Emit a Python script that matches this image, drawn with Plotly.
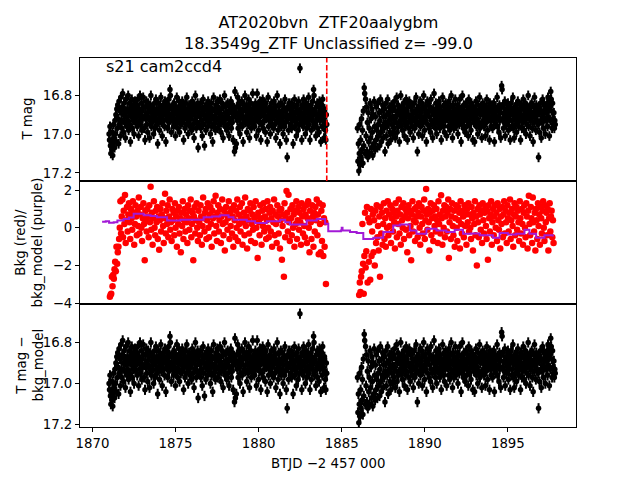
import numpy as np
import plotly.graph_objects as go
from plotly.subplots import make_subplots

# ---------------- data ----------------
seg1_start, seg1_end = 1871.0, 1884.1
seg2_start, seg2_end = 1885.95, 1897.85
bkg1_start, bkg1_end = 1871.05, 1884.05
bkg2_start, bkg2_end = 1886.05, 1897.75
sector_end = 1884.1

mag1 = [
 17.00, 17.03, 16.96, 17.06, 17.10, 17.04, 17.08, 16.99, 17.11, 17.05, 16.95, 17.02, 17.07, 16.93, 17.00, 16.90, 17.04, 16.87, 16.97, 16.85,
 16.92, 17.05, 16.83, 16.95, 16.88, 17.01, 16.81, 16.93, 16.97, 16.86, 16.79, 16.90, 16.99, 16.84, 16.94, 16.88, 17.02, 16.82, 16.91, 16.96,
 16.87, 16.93, 16.80, 16.98, 16.89, 16.84, 16.95, 17.04, 16.86, 16.91, 16.82, 16.97, 16.88, 16.93, 16.85, 17.00, 16.90, 16.83, 16.94, 16.87,
 16.91, 16.85, 16.96, 16.82, 16.89, 17.01, 16.87, 16.93, 16.80, 16.95, 16.90, 16.84, 16.98, 16.88, 16.92, 16.81, 16.86, 16.97, 16.91, 17.03,
 16.86, 16.92, 16.83, 16.95, 16.89, 16.99, 16.84, 16.91, 16.87, 17.02, 16.93, 16.85, 16.80, 16.96, 16.89, 16.94, 16.86, 16.91, 17.00, 16.88,
 16.84, 16.97, 16.90, 16.82, 16.93, 16.87, 16.95, 17.05, 16.89, 16.84, 16.92, 16.98, 16.86, 16.91, 16.81, 16.94, 16.88, 17.01, 16.90, 16.85,
 16.93, 16.87, 16.96, 16.83, 16.90, 17.04, 16.88, 16.92, 16.85, 16.97, 16.89, 16.82, 16.94, 16.86, 16.77, 16.80, 16.91, 16.99, 16.87, 16.93,
 16.85, 16.90, 16.96, 16.84, 16.92, 16.88, 17.01, 16.86, 16.94, 16.81, 16.90, 16.97, 16.87, 16.93, 16.83, 16.99, 16.89, 16.85, 16.95, 16.91,
 16.88, 16.83, 16.94, 16.90, 17.03, 16.86, 16.92, 16.97, 16.84, 16.89, 16.95, 16.81, 16.91, 16.87, 17.00, 16.93, 16.85, 16.90, 16.96, 16.88,
 16.92, 16.86, 16.98, 16.83, 16.90, 16.95, 16.88, 17.02, 16.85, 16.93, 16.80, 16.91, 16.97, 16.87, 16.94, 16.84, 17.07, 16.89, 16.95, 16.86,
 16.91, 16.84, 16.97, 16.89, 16.93, 17.01, 16.87, 16.82, 16.95, 16.90, 17.06, 16.86, 16.92, 16.98, 16.85, 16.91, 16.88, 16.96, 16.83, 16.94,
 16.89, 16.93, 16.86, 17.00, 16.90, 16.84, 16.96, 16.88, 17.04, 16.92, 16.81, 16.95, 16.87, 16.91, 16.98, 16.85, 16.93, 16.89, 16.83, 16.97,
 16.86, 16.92, 16.88, 16.95, 16.82, 16.90, 16.99, 16.87, 16.94, 16.84, 16.91, 17.02, 16.86, 16.93, 16.80, 16.96, 16.89, 16.92, 16.85, 16.98,
 16.90, 16.84, 16.95, 16.88, 17.01, 16.92, 16.86, 16.93, 16.83, 16.97, 16.89, 16.94, 16.85, 17.03, 16.91, 16.87, 17.09, 16.78, 17.07, 16.90,
 17.05, 16.86, 16.93, 16.81, 16.97, 16.89, 16.84, 16.92, 17.00, 16.87, 16.95, 16.90, 16.83, 16.96, 16.88, 17.04, 16.91, 16.85, 16.93, 16.80,
 16.94, 16.88, 16.85, 16.99, 16.91, 16.86, 16.95, 16.82, 16.90, 17.02, 16.87, 16.93, 16.84, 16.97, 16.89, 16.92, 16.79, 16.95, 16.88, 16.86,
 16.96, 16.90, 16.84, 16.93, 17.01, 16.87, 16.79, 16.92, 16.85, 16.98, 16.89, 16.94, 16.83, 16.91, 17.03, 16.86, 16.95, 16.88, 16.82, 16.97,
 16.90, 16.85, 16.93, 16.88, 16.99, 16.84, 16.92, 16.87, 17.04, 16.91, 16.81, 16.96, 16.89, 16.93, 16.86, 17.00, 16.90, 16.84, 16.95, 16.88,
 16.92, 16.87, 16.97, 16.83, 16.90, 16.95, 16.86, 17.02, 16.89, 16.93, 16.80, 16.91, 16.98, 16.85, 16.94, 16.88, 17.05, 16.90, 16.84, 16.96,
 16.89, 16.93, 16.85, 17.00, 16.91, 16.87, 16.96, 16.82, 16.94, 16.88, 17.03, 16.90, 17.12, 16.86, 16.92, 16.98, 16.84, 16.91, 16.87, 16.95,
 16.90, 16.84, 16.97, 16.88, 16.93, 17.05, 16.86, 16.91, 16.82, 16.96, 16.89, 16.94, 17.01, 16.85, 16.92, 16.88, 16.98, 16.83, 16.90, 16.95,
 16.66, 16.87, 16.93, 16.89, 17.03, 16.85, 16.91, 16.96, 16.82, 16.90, 16.94, 16.87, 17.00, 16.92, 16.84, 16.97, 16.89, 16.86, 16.93, 16.81,
 16.95, 16.88, 17.03, 16.91, 16.85, 16.98, 16.87, 16.93, 16.83, 16.90, 16.77, 16.80, 16.96, 16.89, 16.94, 17.01, 16.86, 16.92, 16.84, 16.97,
 16.90, 16.86, 16.99, 16.83, 16.93, 16.88, 17.04, 16.91, 16.85, 16.96, 16.82, 16.92, 16.89, 17.02, 16.87, 16.94, 16.98, 17.03, 16.90, 16.95,
]

mag2 = [
 16.97, 17.14, 17.05, 17.19, 17.10, 16.95, 17.16, 17.03, 17.12, 16.92, 17.08, 16.98, 17.15, 16.88, 17.06, 16.76, 16.79, 17.10, 16.82, 17.01,
 16.86, 17.09, 16.94, 17.12, 16.89, 17.04, 16.97, 17.10, 16.84, 17.02, 16.92, 17.07, 16.87, 16.99, 17.11, 16.90, 17.05, 16.83, 16.96, 17.08,
 16.91, 17.03, 16.86, 16.98, 17.07, 16.84, 16.95, 17.01, 16.89, 17.06, 16.93, 16.82, 16.99, 17.04, 16.88, 16.96, 16.85, 17.02, 16.91, 16.97,
 16.87, 17.09, 16.94, 16.84, 17.01, 16.90, 16.96, 16.82, 17.05, 16.89, 16.93, 16.86, 16.99, 16.91, 17.03, 16.85, 16.95, 16.88, 17.00, 16.92,
 16.86, 16.97, 16.83, 16.92, 17.02, 16.88, 16.94, 16.81, 16.99, 16.90, 16.85, 16.96, 16.89, 17.04, 16.87, 16.93, 16.80, 16.95, 16.91, 16.86,
 16.98, 16.89, 16.84, 16.93, 17.01, 16.87, 16.91, 16.96, 16.82, 16.94, 16.88, 17.03, 16.85, 16.90, 16.97, 16.83, 16.92, 16.99, 16.86, 16.94,
 16.90, 16.85, 16.96, 16.88, 17.02, 16.92, 16.84, 16.97, 16.89, 16.93, 16.81, 16.95, 16.87, 17.09, 16.91, 16.86, 17.00, 16.88, 16.94, 16.83,
 16.96, 16.89, 16.92, 16.84, 17.01, 16.87, 16.94, 16.80, 16.91, 16.98, 16.86, 16.93, 16.88, 17.04, 16.90, 16.83, 16.95, 16.89, 16.85, 16.97,
 16.91, 16.86, 16.99, 16.82, 16.93, 16.88, 16.95, 17.02, 16.87, 16.90, 16.79, 16.94, 16.89, 16.97, 16.84, 16.92, 17.00, 16.86, 16.93, 16.88,
 16.95, 16.83, 16.90, 16.97, 16.86, 16.92, 17.03, 16.88, 16.94, 16.81, 16.91, 16.96, 16.85, 16.99, 16.89, 16.93, 16.84, 16.90, 17.01, 16.87,
 16.92, 16.88, 16.96, 16.83, 16.90, 16.98, 16.86, 16.93, 16.80, 16.95, 16.89, 17.02, 16.85, 16.91, 16.97, 16.87, 16.94, 16.82, 16.90, 16.96,
 16.88, 16.93, 16.85, 17.00, 16.91, 16.86, 16.95, 16.82, 16.92, 16.89, 17.04, 16.87, 16.94, 16.80, 16.90, 16.97, 16.85, 16.93, 16.88, 16.99,
 16.91, 16.84, 16.96, 16.89, 16.93, 16.86, 17.01, 16.82, 16.90, 16.95, 16.87, 16.92, 16.98, 16.84, 16.91, 16.88, 17.03, 16.86, 16.94, 16.90,
 17.04, 16.87, 16.93, 16.83, 16.96, 16.89, 16.92, 17.00, 16.85, 16.94, 16.88, 16.81, 16.97, 16.90, 16.86, 16.95, 17.02, 16.89, 16.84, 16.93,
 16.88, 16.96, 16.85, 16.91, 17.01, 16.87, 16.94, 16.82, 16.90, 16.98, 16.86, 16.92, 16.89, 17.03, 16.84, 16.93, 16.87, 16.96, 16.91, 16.85,
 16.97, 16.89, 16.93, 16.84, 17.04, 16.90, 16.86, 16.95, 16.88, 16.92, 16.81, 16.96, 16.87, 16.91, 16.99, 16.85, 16.93, 16.89, 17.02, 16.86,
 16.75, 16.77, 16.92, 16.85, 16.97, 16.89, 16.94, 16.83, 17.01, 16.90, 16.87, 16.95, 16.88, 16.92, 16.84, 16.98, 16.89, 16.93, 16.86, 17.03,
 16.90, 16.84, 16.96, 16.88, 16.93, 16.81, 16.97, 16.89, 17.02, 16.86, 16.91, 16.95, 16.85, 16.99, 16.88, 16.93, 16.83, 16.90, 16.96, 16.87,
 16.93, 16.88, 17.03, 16.85, 16.91, 16.97, 16.86, 16.94, 16.82, 16.90, 16.98, 16.87, 16.92, 16.84, 17.00, 16.89, 16.95, 16.86, 16.91, 16.80,
 16.96, 16.88, 16.92, 17.01, 16.85, 16.93, 16.89, 16.84, 16.97, 16.90, 17.04, 16.86, 16.94, 16.81, 16.91, 16.88, 16.98, 16.85, 16.93, 16.87,
 16.90, 16.95, 17.12, 16.86, 16.99, 16.89, 16.84, 16.93, 17.02, 16.88, 16.94, 16.82, 16.91, 16.97, 16.85, 16.92, 16.88, 17.00, 16.86, 16.93,
 16.89, 16.84, 16.96, 16.81, 16.91, 16.87, 17.01, 16.85, 16.93, 16.78, 16.82, 16.88, 16.97, 16.84, 16.92, 16.95, 16.89, 16.97, 16.93, 16.95,
]
mag_err = 0.025

bkg1 = [
 -3.65, -3.55, -3.5, -2.6, -3.1, -2.5, -2.7, -2.2, -1.8, -2.3, -1.0, -1.9, -1.3, -1.0, -0.6,
 0.0, 1.4, -0.3, 0.6, 1.5, -0.5, 0.9, 0.2, 1.74, -0.8, 0.4, 1.1, -0.2, 0.7, 1.3,
 0.3, -0.6, 1.0, 0.5, -0.1, 1.4, 0.8, -0.9, 0.2, 1.2, 0.6, -0.4, 0.9, 0.1, 1.6,
 -0.3, 0.7, 1.1, 0.0, -0.7, 0.5, 1.3, 0.2, -1.72, 0.9, 0.4, -0.2, 1.0, 0.6, -0.5,
 1.2, 0.3, 2.17, -0.1, 0.8, -0.9, 0.5, 1.4, 0.0, -0.4, 0.9, 0.3, 1.1, -0.6, 0.6,
 -1.16, 0.4, 1.0, -0.2, 0.7, 1.3, 0.1, -0.8, 0.5, 1.8, -0.3, 0.9, 0.2, 1.2, -0.5,
 0.6, 1.5, -0.1, 0.3, -0.7, 1.0, 0.4, 0.8, -0.4, 1.3, 0.0, 0.6, -1.0, 0.9, 0.2,
 1.1, -0.3, 0.5, -1.3, 0.8, 0.1, 1.4, -0.6, 0.4, 1.0, -0.2, 0.7, 0.3, -0.8, 1.2,
 0.5, -0.1, 0.9, 1.5, -0.5, 0.2, 0.8, -1.72, 0.6, 1.1, -0.3, 0.4, 1.3, 0.0, -0.7,
 0.9, 0.3, -0.4, 1.2, 0.6, -0.9, 0.1, 1.6, 0.5, -0.2, 0.8, 1.0, -0.6, 0.4, 1.3,
 0.0, -0.5, 0.7, 1.1, 0.2, -1.0, 0.9, 0.5, 1.4, -0.3, 0.6, 1.7, 0.1, -0.7, 0.8,
 1.2, -0.2, 0.4, 1.0, -0.8, 0.6, 1.5, 0.2, -0.4, 0.9, -1.2, 0.3, 1.1, 0.7, -0.1,
 0.5, 1.4, -0.6, 0.8, 0.1, 1.0, -0.3, 0.6, -1.0, 1.2, 0.4, -0.5, 0.9, 0.0, 1.5,
 -0.7, 0.7, 0.2, 1.1, -0.2, 0.5, 1.3, -0.9, 0.3, 0.8, -0.4, 1.6, 0.1, 0.6, -1.1,
 1.0, 0.4, -0.3, 0.9, 1.3, -0.7, 0.2, 0.7, -0.1, 1.1, 0.5, -0.8, 1.4, 0.0, 0.6,
 -1.6, 0.8, 0.3, -0.4, 1.2, 0.5, -0.9, 0.9, 0.1, 1.3, -0.2, 0.6, 1.0, -0.6, 0.4,
 1.4, 0.0, -0.5, 0.8, 1.1, -0.2, 0.5, -1.0, 0.9, 0.3, 1.5, -0.4, 0.7, 0.2, -0.8,
 1.2, 0.6, -0.3, 0.9, -1.1, 0.4, 1.0, -1.7, 0.1, 0.7, -2.6, 1.3, -0.5, 0.5, 1.95,
 0.8, -0.2, 1.75, 0.3, -0.7, 1.0, 0.5, -0.4, 1.2, 0.0, 0.7, -1.0, 0.9, 0.2, 1.4,
 -0.6, 0.4, 1.1, -0.1, 0.8, 0.3, -0.9, 1.3, 0.6, -0.3, 1.0, 0.1, -0.5, 0.7, 1.2,
 -0.8, 0.5, 1.4, 0.0, -1.3, 0.9, 0.3, -0.6, 1.2, 0.6, -1.0, 0.8, -0.2, 1.1, 0.4,
 1.5, -0.4, 0.7, -1.4, 1.3, 0.2, -1.3, 0.9, -0.7, 1.2, -1.5, 0.5, -1.0, 0.3, -2.98,
]

bkg2 = [
 -3.56, -2.9, -3.4, -2.6, -2.3, 0.2, -1.9, -3.5, -1.5, 0.8, -2.1, -1.25, 1.1, -2.9, 0.5,
 -1.8, 0.3, -2.75, 1.0, -1.5, -0.2, 0.7, -1.3, 0.4, -2.0, 0.9, -0.8, 1.2, -0.5, 0.1,
 -1.2, 0.6, -2.6, 1.1, -0.3, 0.8, -0.9, 0.2, 1.3, -0.6, 0.5, -1.0, 0.9, 0.0, 1.4,
 -0.4, 0.7, 0.1, 1.2, -0.8, 0.5, 1.0, -0.2, 0.8, 0.3, -1.1, 1.3, 0.6, -0.5, 0.9,
 0.2, 1.5, -0.3, 0.7, -0.9, 1.1, 0.4, 0.0, 1.3, -0.6, 0.6, 1.0, -0.1, 0.8, -1.3,
 0.5, 1.2, -0.4, 0.9, 0.1, -1.72, 0.7, 1.4, -0.2, 0.4, 1.0, -0.7, 0.3, 1.1, 0.6,
 -0.5, 0.8, 1.3, 0.0, -0.9, 0.6, 1.1, 0.2, -0.3, 0.9, 1.5, -0.6, 0.4, 2.05, 0.7,
 -0.1, 1.0, 0.3, -1.2, 0.8, 1.3, -0.4, 0.5, 0.9, -0.7, 1.2, 0.1, 0.6, -0.2, 1.0,
 0.4, -0.8, 1.4, 0.2, 0.7, -0.3, 1.73, 0.5, -0.9, 0.9, 0.0, 1.2, -0.5, 0.6, 1.1,
 -0.2, 0.8, 1.5, -1.6, 0.3, 1.0, -0.6, 0.6, 1.3, 0.1, -0.4, 0.9, -1.0, 0.5, 1.2,
 0.0, -0.7, 1.1, 0.4, 0.8, -1.1, 1.4, 0.2, -0.3, 0.9, 0.6, -0.5, 1.2, 0.1, 0.7,
 -0.9, 1.0, 0.3, 1.3, -0.2, 0.7, 0.0, -0.6, 1.1, 0.5, -1.2, 0.8, 0.2, 1.4, -0.4,
 0.6, -2.0, 1.0, 0.3, -0.5, 1.2, 0.7, -0.1, 0.9, -0.8, 1.3, 0.4, -0.3, 0.8, 1.1,
 0.1, -0.6, 0.9, -1.7, 1.2, 0.5, -0.2, 0.7, 1.4, -0.9, 0.3, 1.0, -0.4, 0.6, 1.2,
 0.0, 0.8, -0.7, 1.3, 0.4, -0.1, 1.0, -1.1, 0.6, 0.2, 1.1, -0.5, 0.7, 1.4, -0.3,
 0.9, 0.3, -0.8, 1.2, 0.5, -0.2, 0.8, 1.5, -0.6, 0.4, 1.0, 0.1, -1.0, 0.7, 1.3,
 -0.4, 0.6, 1.1, -0.1, 0.9, 0.3, -0.7, 1.4, 0.5, -0.3, 1.0, 0.2, -0.9, 0.8, 1.2,
 0.0, -0.5, 1.3, 0.6, -1.1, 0.9, 1.7, 0.2, -0.4, 1.1, 0.5, -0.8, 1.6, 0.3, -0.2,
 0.8, -1.2, 1.0, 0.4, -0.6, 1.3, 0.1, 0.7, -0.9, 1.1, 0.5, -0.3, 0.9, 1.4, 0.0,
 -0.7, 1.2, 0.3, 0.8, -0.4, 1.0, -1.2, 0.5, 1.3, -0.2, 0.6, 0.9, -0.5, 0.4, -0.8,
]

model_t = [1870.58, 1870.8, 1871.0, 1871.28, 1871.5, 1871.88, 1872.2, 1872.48, 1873.08, 1873.5, 1873.88,
           1874.49, 1875.29, 1876.08, 1876.69, 1877.2, 1877.69, 1878.19, 1878.49, 1879.29, 1879.79,
           1880.49, 1881.29, 1881.6, 1881.89, 1882.49, 1882.89, 1883.5, 1884.0, 1884.19, 1884.6,
           1884.95, 1885.0, 1885.05, 1885.5, 1885.9, 1886.3, 1886.9, 1887.5, 1888.1, 1888.5, 1889.1,
           1889.5, 1890.1, 1890.7, 1891.3, 1891.8, 1892.3, 1892.8, 1893.3, 1894.1, 1894.5, 1895.0,
           1895.5, 1896.0, 1896.3, 1896.7, 1897.2, 1897.7]
model_v = [0.32, 0.34, 0.27, 0.30, 0.38, 0.47, 0.55, 0.74, 0.67, 0.62, 0.56,
           0.39, 0.42, 0.42, 0.56, 0.60, 0.67, 0.56, 0.42, 0.35, 0.25,
           0.35, 0.42, 0.30, 0.18, 0.18, 0.39, 0.46, 0.21, -0.18, -0.18,
           -0.15, 0.0, -0.15, -0.23, -0.28, -0.60, -0.53, -0.23, 0.12, 0.18, -0.14,
           -0.32, -0.05, -0.14, -0.23, -0.10, -0.32, -0.30, -0.40, -0.53, -0.28, -0.35,
           -0.32, -0.10, -0.32, -0.53, -0.40, -0.46]

title_text = "AT2020bvn  ZTF20aalygbm<br>18.3549g_ZTF Unclassified z= -99.0"
label_text = "s21 cam2ccd4"
ylabels = ["T mag", "Bkg (red)/<br>bkg_model (purple)", "T mag −<br>bkg_model"]
xlabel = "BTJD −2 457 000"

# ---------------- figure ----------------
t_mag = np.concatenate([np.linspace(seg1_start, seg1_end, len(mag1)),
                        np.linspace(seg2_start, seg2_end, len(mag2))])
mag = np.array(mag1 + mag2)
t_bkg = np.concatenate([np.linspace(bkg1_start, bkg1_end, len(bkg1)),
                        np.linspace(bkg2_start, bkg2_end, len(bkg2))])
bkg = np.array(bkg1 + bkg2)

FONT = "DejaVu Sans"
fig = make_subplots(rows=3, cols=1, shared_xaxes=True, vertical_spacing=0)

err = dict(type="constant", value=mag_err, color="black", thickness=2, width=0)
fig.add_trace(go.Scatter(x=t_mag, y=mag, mode="markers",
                         marker=dict(color="black", size=5.5),
                         error_y=err, showlegend=False, hoverinfo="skip"), row=1, col=1)
fig.add_trace(go.Scatter(x=t_bkg, y=bkg, mode="markers",
                         marker=dict(color="red", size=6.5),
                         showlegend=False, hoverinfo="skip"), row=2, col=1)
fig.add_trace(go.Scatter(x=model_t, y=model_v, mode="lines",
                         line=dict(color="#a21ad6", width=2, shape="hv"),
                         showlegend=False, hoverinfo="skip"), row=2, col=1)
fig.add_trace(go.Scatter(x=t_mag, y=mag, mode="markers",
                         marker=dict(color="black", size=5.5),
                         error_y=err, showlegend=False, hoverinfo="skip"), row=3, col=1)

fig.add_vline(x=sector_end, line=dict(color="red", width=1.6, dash="5.5px,2.4px"), row=1, col=1)

axis_common = dict(showline=True, linecolor="black", linewidth=1, mirror=True,
                   ticks="outside", ticklen=4, tickcolor="black", showgrid=False,
                   zeroline=False, automargin=False,
                   tickfont=dict(family=FONT, size=13.3, color="black"))

for r in (1, 2, 3):
    fig.update_xaxes(range=[1869.25, 1899.1], tick0=1870, dtick=5, row=r, col=1, **axis_common)
fig.update_xaxes(showticklabels=False, ticks="", row=1, col=1)
fig.update_xaxes(showticklabels=False, ticks="", row=2, col=1)

fig.update_yaxes(range=[17.242, 16.607], tick0=16.8, dtick=0.2, tickformat=".1f", row=1, col=1, **axis_common)
fig.update_yaxes(range=[-4.04, 2.48], tick0=0, dtick=2, row=2, col=1, **axis_common)
fig.update_yaxes(range=[17.211, 16.613], tick0=16.8, dtick=0.2, tickformat=".1f", row=3, col=1, **axis_common)

lab_font = dict(family=FONT, size=13.3, color="black")
for yc, txt, xs in zip([5 / 6, 0.5, 1 / 6], ylabels, [-53, -52, -51]):
    fig.add_annotation(text=txt, xref="paper", yref="paper", x=0, y=yc, xanchor="center",
                       yanchor="middle", xshift=xs, textangle=-90, showarrow=False, font=lab_font)
fig.add_annotation(text=xlabel, xref="paper", yref="paper", x=0.5, y=0, yanchor="top",
                   yshift=-27, showarrow=False, font=lab_font)

fig.add_annotation(text=title_text, xref="paper", yref="paper", x=0.5, y=1, yanchor="bottom",
                   yshift=2, showarrow=False, font=dict(family=FONT, size=16, color="black"))
fig.add_annotation(text=label_text, xref="paper", yref="paper", x=0.048, y=1, xanchor="left",
                   yanchor="top", yshift=3, showarrow=False, font=dict(family=FONT, size=16, color="black"))

fig.update_layout(width=640, height=480, margin=dict(l=80, r=64, t=58, b=53),
                  paper_bgcolor="white", plot_bgcolor="white", showlegend=False,
                  hovermode=False, font=dict(family=FONT, color="black"))
fig.write_html("out.html", config={"displayModeBar": False, "staticPlot": True},
               post_script="document.body.style.margin='0px';")
